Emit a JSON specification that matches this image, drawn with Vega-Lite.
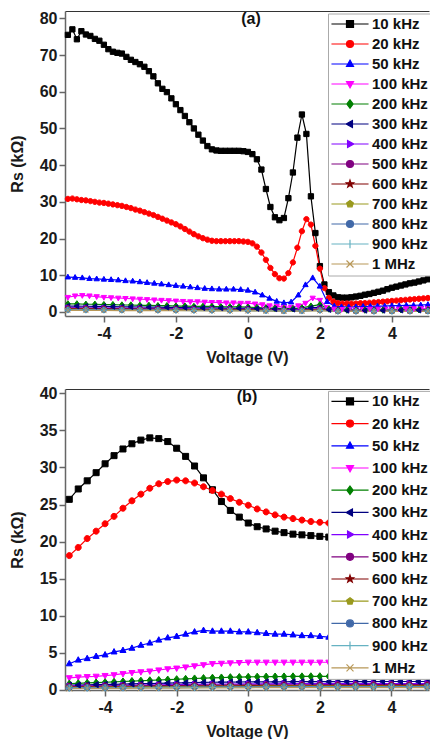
{
"$schema": "https://vega.github.io/schema/vega-lite/v6.json",
"padding": {"left": 9, "top": 10, "right": 0, "bottom": 0},
"background": "white",
"spacing": 20,
"resolve": {"legend": {"color": "independent"}},
"config": {
 "font": "Liberation Sans",
 "view": {"stroke": null},
 "axis": {"labelFont": "Liberation Sans", "labelFontWeight": "bold", "labelFontSize": 16, "labelColor": "#1a1a1a", "titleFont": "Liberation Sans", "titleFontWeight": "bold", "titleFontSize": 16, "titleColor": "#1a1a1a", "domainColor": "#666", "domainWidth": 1.5, "tickColor": "#666", "tickWidth": 1.5, "tickSize": 6, "labelPadding": 2, "grid": false, "labelOverlap": false, "labelExpr": "replace(datum.label, '\u2212', '-')"},
 "axisX": {"titlePadding": 8, "labelPadding": 3},
 "axisY": {"titlePadding": 14},
 "title": {"font": "Liberation Sans", "fontWeight": "bold", "fontSize": 16, "color": "#111", "frame": "group", "offset": -17, "anchor": "middle"}
},
"datasets": {
"a": [
{"f":10,"v":-5,"r":75.5},{"f":10,"v":-4.875,"r":77.0},{"f":10,"v":-4.75,"r":74.3},{"f":10,"v":-4.625,"r":76.5},{"f":10,"v":-4.5,"r":75.6},{"f":10,"v":-4.375,"r":75.2},{"f":10,"v":-4.25,"r":74.4},{"f":10,"v":-4.125,"r":73.9},{"f":10,"v":-4,"r":72.8},{"f":10,"v":-3.875,"r":71.6},{"f":10,"v":-3.75,"r":70.9},{"f":10,"v":-3.625,"r":70.6},{"f":10,"v":-3.5,"r":70.4},{"f":10,"v":-3.375,"r":69.5},{"f":10,"v":-3.25,"r":68.7},{"f":10,"v":-3.125,"r":68.1},{"f":10,"v":-3,"r":67.5},{"f":10,"v":-2.875,"r":66.8},{"f":10,"v":-2.75,"r":65.6},{"f":10,"v":-2.625,"r":64.2},{"f":10,"v":-2.5,"r":62.3},{"f":10,"v":-2.375,"r":60.8},{"f":10,"v":-2.25,"r":59.9},{"f":10,"v":-2.125,"r":58.2},{"f":10,"v":-2,"r":56.6},{"f":10,"v":-1.875,"r":55.0},{"f":10,"v":-1.75,"r":53.4},{"f":10,"v":-1.625,"r":51.7},{"f":10,"v":-1.5,"r":50.0},{"f":10,"v":-1.375,"r":48.3},{"f":10,"v":-1.25,"r":46.7},{"f":10,"v":-1.125,"r":45.2},{"f":10,"v":-1,"r":44.3},{"f":10,"v":-0.875,"r":44.0},{"f":10,"v":-0.75,"r":43.9},{"f":10,"v":-0.625,"r":43.9},{"f":10,"v":-0.5,"r":43.9},{"f":10,"v":-0.375,"r":43.9},{"f":10,"v":-0.25,"r":43.9},{"f":10,"v":-0.125,"r":43.8},{"f":10,"v":0,"r":43.6},{"f":10,"v":0.125,"r":43.0},{"f":10,"v":0.25,"r":41.6},{"f":10,"v":0.375,"r":38.8},{"f":10,"v":0.5,"r":33.5},{"f":10,"v":0.625,"r":28.6},{"f":10,"v":0.75,"r":25.8},{"f":10,"v":0.875,"r":25.0},{"f":10,"v":1,"r":25.6},{"f":10,"v":1.125,"r":31.0},{"f":10,"v":1.25,"r":38.0},{"f":10,"v":1.375,"r":47.5},{"f":10,"v":1.5,"r":53.8},{"f":10,"v":1.625,"r":48.5},{"f":10,"v":1.75,"r":31.5},{"f":10,"v":1.875,"r":21.5},{"f":10,"v":2,"r":12.5},{"f":10,"v":2.125,"r":7.5},{"f":10,"v":2.25,"r":5.4},{"f":10,"v":2.375,"r":4.5},{"f":10,"v":2.5,"r":4.0},{"f":10,"v":2.625,"r":3.9},{"f":10,"v":2.75,"r":3.9},{"f":10,"v":2.875,"r":4.0},{"f":10,"v":3,"r":4.2},{"f":10,"v":3.125,"r":4.4},{"f":10,"v":3.25,"r":4.7},{"f":10,"v":3.375,"r":4.9},{"f":10,"v":3.5,"r":5.2},{"f":10,"v":3.625,"r":5.5},{"f":10,"v":3.75,"r":5.8},{"f":10,"v":3.875,"r":6.2},{"f":10,"v":4,"r":6.6},{"f":10,"v":4.125,"r":6.9},{"f":10,"v":4.25,"r":7.2},{"f":10,"v":4.375,"r":7.5},{"f":10,"v":4.5,"r":7.8},{"f":10,"v":4.625,"r":8.0},{"f":10,"v":4.75,"r":8.3},{"f":10,"v":4.875,"r":8.6},{"f":10,"v":5,"r":8.9},
{"f":20,"v":-5,"r":30.8},{"f":20,"v":-4.875,"r":30.9},{"f":20,"v":-4.75,"r":30.7},{"f":20,"v":-4.625,"r":30.5},{"f":20,"v":-4.5,"r":30.4},{"f":20,"v":-4.375,"r":30.2},{"f":20,"v":-4.25,"r":30.0},{"f":20,"v":-4.125,"r":29.8},{"f":20,"v":-4,"r":29.7},{"f":20,"v":-3.875,"r":29.5},{"f":20,"v":-3.75,"r":29.3},{"f":20,"v":-3.625,"r":29.1},{"f":20,"v":-3.5,"r":28.9},{"f":20,"v":-3.375,"r":28.6},{"f":20,"v":-3.25,"r":28.3},{"f":20,"v":-3.125,"r":27.9},{"f":20,"v":-3,"r":27.6},{"f":20,"v":-2.875,"r":27.2},{"f":20,"v":-2.75,"r":26.8},{"f":20,"v":-2.625,"r":26.4},{"f":20,"v":-2.5,"r":25.9},{"f":20,"v":-2.375,"r":25.4},{"f":20,"v":-2.25,"r":24.9},{"f":20,"v":-2.125,"r":24.4},{"f":20,"v":-2,"r":23.9},{"f":20,"v":-1.875,"r":23.3},{"f":20,"v":-1.75,"r":22.6},{"f":20,"v":-1.625,"r":21.9},{"f":20,"v":-1.5,"r":21.2},{"f":20,"v":-1.375,"r":20.6},{"f":20,"v":-1.25,"r":20.1},{"f":20,"v":-1.125,"r":19.7},{"f":20,"v":-1,"r":19.4},{"f":20,"v":-0.875,"r":19.3},{"f":20,"v":-0.75,"r":19.3},{"f":20,"v":-0.625,"r":19.3},{"f":20,"v":-0.5,"r":19.3},{"f":20,"v":-0.375,"r":19.3},{"f":20,"v":-0.25,"r":19.3},{"f":20,"v":-0.125,"r":19.2},{"f":20,"v":0,"r":19.1},{"f":20,"v":0.125,"r":18.7},{"f":20,"v":0.25,"r":17.8},{"f":20,"v":0.375,"r":16.2},{"f":20,"v":0.5,"r":14.2},{"f":20,"v":0.625,"r":12.0},{"f":20,"v":0.75,"r":10.3},{"f":20,"v":0.875,"r":9.2},{"f":20,"v":1,"r":9.1},{"f":20,"v":1.125,"r":10.6},{"f":20,"v":1.25,"r":13.5},{"f":20,"v":1.375,"r":17.5},{"f":20,"v":1.5,"r":22.0},{"f":20,"v":1.625,"r":25.3},{"f":20,"v":1.75,"r":23.8},{"f":20,"v":1.875,"r":18.0},{"f":20,"v":2,"r":11.8},{"f":20,"v":2.125,"r":6.5},{"f":20,"v":2.25,"r":3.8},{"f":20,"v":2.375,"r":2.8},{"f":20,"v":2.5,"r":2.4},{"f":20,"v":2.625,"r":2.3},{"f":20,"v":2.75,"r":2.3},{"f":20,"v":2.875,"r":2.3},{"f":20,"v":3,"r":2.3},{"f":20,"v":3.125,"r":2.4},{"f":20,"v":3.25,"r":2.4},{"f":20,"v":3.375,"r":2.5},{"f":20,"v":3.5,"r":2.6},{"f":20,"v":3.625,"r":2.7},{"f":20,"v":3.75,"r":2.8},{"f":20,"v":3.875,"r":2.9},{"f":20,"v":4,"r":3.0},{"f":20,"v":4.125,"r":3.1},{"f":20,"v":4.25,"r":3.2},{"f":20,"v":4.375,"r":3.3},{"f":20,"v":4.5,"r":3.4},{"f":20,"v":4.625,"r":3.5},{"f":20,"v":4.75,"r":3.6},{"f":20,"v":4.875,"r":3.7},{"f":20,"v":5,"r":3.8},
{"f":50,"v":-5,"r":9.5},{"f":50,"v":-4.8,"r":9.4},{"f":50,"v":-4.6,"r":9.3},{"f":50,"v":-4.4,"r":9.1},{"f":50,"v":-4.2,"r":9.0},{"f":50,"v":-4,"r":8.9},{"f":50,"v":-3.8,"r":8.8},{"f":50,"v":-3.6,"r":8.7},{"f":50,"v":-3.4,"r":8.5},{"f":50,"v":-3.2,"r":8.4},{"f":50,"v":-3,"r":8.2},{"f":50,"v":-2.8,"r":8.0},{"f":50,"v":-2.6,"r":7.8},{"f":50,"v":-2.4,"r":7.6},{"f":50,"v":-2.2,"r":7.4},{"f":50,"v":-2,"r":7.2},{"f":50,"v":-1.8,"r":7.0},{"f":50,"v":-1.6,"r":6.8},{"f":50,"v":-1.4,"r":6.6},{"f":50,"v":-1.2,"r":6.4},{"f":50,"v":-1,"r":6.3},{"f":50,"v":-0.8,"r":6.2},{"f":50,"v":-0.6,"r":6.2},{"f":50,"v":-0.4,"r":6.2},{"f":50,"v":-0.2,"r":6.1},{"f":50,"v":0,"r":5.9},{"f":50,"v":0.2,"r":5.4},{"f":50,"v":0.4,"r":4.6},{"f":50,"v":0.6,"r":3.7},{"f":50,"v":0.8,"r":2.9},{"f":50,"v":1,"r":2.5},{"f":50,"v":1.2,"r":2.7},{"f":50,"v":1.4,"r":4.6},{"f":50,"v":1.6,"r":7.4},{"f":50,"v":1.8,"r":9.3},{"f":50,"v":2,"r":7.0},{"f":50,"v":2.2,"r":2.8},{"f":50,"v":2.4,"r":1.6},{"f":50,"v":2.6,"r":1.4},{"f":50,"v":2.8,"r":1.4},{"f":50,"v":3,"r":1.4},{"f":50,"v":3.2,"r":1.5},{"f":50,"v":3.4,"r":1.5},{"f":50,"v":3.6,"r":1.6},{"f":50,"v":3.8,"r":1.6},{"f":50,"v":4,"r":1.7},{"f":50,"v":4.2,"r":1.7},{"f":50,"v":4.4,"r":1.8},{"f":50,"v":4.6,"r":1.8},{"f":50,"v":4.8,"r":1.9},{"f":50,"v":5,"r":2.0},
{"f":100,"v":-5,"r":4.0},{"f":100,"v":-4.8,"r":4.4},{"f":100,"v":-4.6,"r":4.5},{"f":100,"v":-4.4,"r":4.4},{"f":100,"v":-4.2,"r":4.2},{"f":100,"v":-4,"r":4.0},{"f":100,"v":-3.8,"r":3.9},{"f":100,"v":-3.6,"r":3.8},{"f":100,"v":-3.4,"r":3.7},{"f":100,"v":-3.2,"r":3.6},{"f":100,"v":-3,"r":3.5},{"f":100,"v":-2.8,"r":3.4},{"f":100,"v":-2.6,"r":3.3},{"f":100,"v":-2.4,"r":3.2},{"f":100,"v":-2.2,"r":3.1},{"f":100,"v":-2,"r":3.0},{"f":100,"v":-1.8,"r":2.9},{"f":100,"v":-1.6,"r":2.8},{"f":100,"v":-1.4,"r":2.8},{"f":100,"v":-1.2,"r":2.7},{"f":100,"v":-1,"r":2.6},{"f":100,"v":-0.8,"r":2.6},{"f":100,"v":-0.6,"r":2.5},{"f":100,"v":-0.4,"r":2.5},{"f":100,"v":-0.2,"r":2.4},{"f":100,"v":0,"r":2.4},{"f":100,"v":0.2,"r":2.2},{"f":100,"v":0.4,"r":2.0},{"f":100,"v":0.6,"r":1.7},{"f":100,"v":0.8,"r":1.5},{"f":100,"v":1,"r":1.3},{"f":100,"v":1.2,"r":1.3},{"f":100,"v":1.4,"r":1.7},{"f":100,"v":1.6,"r":2.4},{"f":100,"v":1.8,"r":3.8},{"f":100,"v":2,"r":3.2},{"f":100,"v":2.2,"r":1.2},{"f":100,"v":2.4,"r":0.8},{"f":100,"v":2.6,"r":0.7},{"f":100,"v":2.8,"r":0.7},{"f":100,"v":3,"r":0.7},{"f":100,"v":3.2,"r":0.7},{"f":100,"v":3.4,"r":0.8},{"f":100,"v":3.6,"r":0.8},{"f":100,"v":3.8,"r":0.8},{"f":100,"v":4,"r":0.8},{"f":100,"v":4.2,"r":0.8},{"f":100,"v":4.4,"r":0.9},{"f":100,"v":4.6,"r":0.9},{"f":100,"v":4.8,"r":0.9},{"f":100,"v":5,"r":0.9},
{"f":200,"v":-5,"r":2.2},{"f":200,"v":-4.75,"r":2.2},{"f":200,"v":-4.5,"r":2.1},{"f":200,"v":-4.25,"r":2.1},{"f":200,"v":-4,"r":2.0},{"f":200,"v":-3.75,"r":2.0},{"f":200,"v":-3.5,"r":1.9},{"f":200,"v":-3.25,"r":1.9},{"f":200,"v":-3,"r":1.8},{"f":200,"v":-2.75,"r":1.8},{"f":200,"v":-2.5,"r":1.7},{"f":200,"v":-2.25,"r":1.7},{"f":200,"v":-2,"r":1.6},{"f":200,"v":-1.75,"r":1.6},{"f":200,"v":-1.5,"r":1.5},{"f":200,"v":-1.25,"r":1.5},{"f":200,"v":-1,"r":1.5},{"f":200,"v":-0.75,"r":1.4},{"f":200,"v":-0.5,"r":1.4},{"f":200,"v":-0.25,"r":1.4},{"f":200,"v":0,"r":1.3},{"f":200,"v":0.25,"r":1.2},{"f":200,"v":0.5,"r":1.1},{"f":200,"v":0.75,"r":1.0},{"f":200,"v":1,"r":0.9},{"f":200,"v":1.25,"r":0.9},{"f":200,"v":1.5,"r":1.1},{"f":200,"v":1.75,"r":1.6},{"f":200,"v":2,"r":2.0},{"f":200,"v":2.25,"r":0.8},{"f":200,"v":2.5,"r":0.5},{"f":200,"v":2.75,"r":0.5},{"f":200,"v":3,"r":0.5},{"f":200,"v":3.25,"r":0.5},{"f":200,"v":3.5,"r":0.5},{"f":200,"v":3.75,"r":0.5},{"f":200,"v":4,"r":0.5},{"f":200,"v":4.25,"r":0.6},{"f":200,"v":4.5,"r":0.6},{"f":200,"v":4.75,"r":0.6},{"f":200,"v":5,"r":0.6},
{"f":300,"v":-5,"r":1.6},{"f":300,"v":-4.75,"r":1.6},{"f":300,"v":-4.5,"r":1.55},{"f":300,"v":-4.25,"r":1.5},{"f":300,"v":-4,"r":1.5},{"f":300,"v":-3.75,"r":1.45},{"f":300,"v":-3.5,"r":1.4},{"f":300,"v":-3.25,"r":1.4},{"f":300,"v":-3,"r":1.35},{"f":300,"v":-2.75,"r":1.3},{"f":300,"v":-2.5,"r":1.3},{"f":300,"v":-2.25,"r":1.25},{"f":300,"v":-2,"r":1.2},{"f":300,"v":-1.75,"r":1.2},{"f":300,"v":-1.5,"r":1.15},{"f":300,"v":-1.25,"r":1.1},{"f":300,"v":-1,"r":1.1},{"f":300,"v":-0.75,"r":1.05},{"f":300,"v":-0.5,"r":1.0},{"f":300,"v":-0.25,"r":1.0},{"f":300,"v":0,"r":1.0},{"f":300,"v":0.25,"r":0.9},{"f":300,"v":0.5,"r":0.85},{"f":300,"v":0.75,"r":0.8},{"f":300,"v":1,"r":0.7},{"f":300,"v":1.25,"r":0.7},{"f":300,"v":1.5,"r":0.8},{"f":300,"v":1.75,"r":1.1},{"f":300,"v":2,"r":1.3},{"f":300,"v":2.25,"r":0.6},{"f":300,"v":2.5,"r":0.4},{"f":300,"v":2.75,"r":0.4},{"f":300,"v":3,"r":0.4},{"f":300,"v":3.25,"r":0.4},{"f":300,"v":3.5,"r":0.4},{"f":300,"v":3.75,"r":0.4},{"f":300,"v":4,"r":0.4},{"f":300,"v":4.25,"r":0.45},{"f":300,"v":4.5,"r":0.45},{"f":300,"v":4.75,"r":0.45},{"f":300,"v":5,"r":0.45},
{"f":400,"v":-5,"r":1.2},{"f":400,"v":-4.5,"r":1.15},{"f":400,"v":-4,"r":1.1},{"f":400,"v":-3.5,"r":1.05},{"f":400,"v":-3,"r":1.0},{"f":400,"v":-2.5,"r":0.95},{"f":400,"v":-2,"r":0.9},{"f":400,"v":-1.5,"r":0.85},{"f":400,"v":-1,"r":0.8},{"f":400,"v":-0.5,"r":0.8},{"f":400,"v":0,"r":0.75},{"f":400,"v":0.5,"r":0.65},{"f":400,"v":1,"r":0.55},{"f":400,"v":1.5,"r":0.6},{"f":400,"v":2,"r":1.0},{"f":400,"v":2.5,"r":0.35},{"f":400,"v":3,"r":0.35},{"f":400,"v":3.5,"r":0.35},{"f":400,"v":4,"r":0.35},{"f":400,"v":4.5,"r":0.4},{"f":400,"v":5,"r":0.4},
{"f":500,"v":-5,"r":1.0},{"f":500,"v":-4.5,"r":0.96},{"f":500,"v":-4,"r":0.92},{"f":500,"v":-3.5,"r":0.88},{"f":500,"v":-3,"r":0.84},{"f":500,"v":-2.5,"r":0.8},{"f":500,"v":-2,"r":0.76},{"f":500,"v":-1.5,"r":0.72},{"f":500,"v":-1,"r":0.7},{"f":500,"v":-0.5,"r":0.68},{"f":500,"v":0,"r":0.64},{"f":500,"v":0.5,"r":0.55},{"f":500,"v":1,"r":0.46},{"f":500,"v":1.5,"r":0.5},{"f":500,"v":2,"r":0.8},{"f":500,"v":2.5,"r":0.3},{"f":500,"v":3,"r":0.3},{"f":500,"v":3.5,"r":0.3},{"f":500,"v":4,"r":0.3},{"f":500,"v":4.5,"r":0.32},{"f":500,"v":5,"r":0.34},
{"f":600,"v":-5,"r":0.85},{"f":600,"v":-4.5,"r":0.82},{"f":600,"v":-4,"r":0.79},{"f":600,"v":-3.5,"r":0.76},{"f":600,"v":-3,"r":0.72},{"f":600,"v":-2.5,"r":0.69},{"f":600,"v":-2,"r":0.66},{"f":600,"v":-1.5,"r":0.63},{"f":600,"v":-1,"r":0.6},{"f":600,"v":-0.5,"r":0.58},{"f":600,"v":0,"r":0.55},{"f":600,"v":0.5,"r":0.47},{"f":600,"v":1,"r":0.4},{"f":600,"v":1.5,"r":0.43},{"f":600,"v":2,"r":0.66},{"f":600,"v":2.5,"r":0.26},{"f":600,"v":3,"r":0.26},{"f":600,"v":3.5,"r":0.26},{"f":600,"v":4,"r":0.27},{"f":600,"v":4.5,"r":0.28},{"f":600,"v":5,"r":0.3},
{"f":700,"v":-5,"r":0.72},{"f":700,"v":-4.5,"r":0.7},{"f":700,"v":-4,"r":0.67},{"f":700,"v":-3.5,"r":0.64},{"f":700,"v":-3,"r":0.62},{"f":700,"v":-2.5,"r":0.59},{"f":700,"v":-2,"r":0.56},{"f":700,"v":-1.5,"r":0.54},{"f":700,"v":-1,"r":0.52},{"f":700,"v":-0.5,"r":0.5},{"f":700,"v":0,"r":0.47},{"f":700,"v":0.5,"r":0.41},{"f":700,"v":1,"r":0.35},{"f":700,"v":1.5,"r":0.37},{"f":700,"v":2,"r":0.56},{"f":700,"v":2.5,"r":0.23},{"f":700,"v":3,"r":0.23},{"f":700,"v":3.5,"r":0.23},{"f":700,"v":4,"r":0.24},{"f":700,"v":4.5,"r":0.25},{"f":700,"v":5,"r":0.26},
{"f":800,"v":-5,"r":0.6},{"f":800,"v":-4.5,"r":0.58},{"f":800,"v":-4,"r":0.56},{"f":800,"v":-3.5,"r":0.54},{"f":800,"v":-3,"r":0.52},{"f":800,"v":-2.5,"r":0.5},{"f":800,"v":-2,"r":0.48},{"f":800,"v":-1.5,"r":0.46},{"f":800,"v":-1,"r":0.44},{"f":800,"v":-0.5,"r":0.42},{"f":800,"v":0,"r":0.4},{"f":800,"v":0.5,"r":0.35},{"f":800,"v":1,"r":0.3},{"f":800,"v":1.5,"r":0.32},{"f":800,"v":2,"r":0.47},{"f":800,"v":2.5,"r":0.2},{"f":800,"v":3,"r":0.2},{"f":800,"v":3.5,"r":0.2},{"f":800,"v":4,"r":0.21},{"f":800,"v":4.5,"r":0.22},{"f":800,"v":5,"r":0.23},
{"f":900,"v":-5,"r":0.5},{"f":900,"v":-4.5,"r":0.48},{"f":900,"v":-4,"r":0.47},{"f":900,"v":-3.5,"r":0.45},{"f":900,"v":-3,"r":0.43},{"f":900,"v":-2.5,"r":0.42},{"f":900,"v":-2,"r":0.4},{"f":900,"v":-1.5,"r":0.38},{"f":900,"v":-1,"r":0.37},{"f":900,"v":-0.5,"r":0.35},{"f":900,"v":0,"r":0.34},{"f":900,"v":0.5,"r":0.3},{"f":900,"v":1,"r":0.26},{"f":900,"v":1.5,"r":0.27},{"f":900,"v":2,"r":0.4},{"f":900,"v":2.5,"r":0.17},{"f":900,"v":3,"r":0.17},{"f":900,"v":3.5,"r":0.17},{"f":900,"v":4,"r":0.18},{"f":900,"v":4.5,"r":0.19},{"f":900,"v":5,"r":0.2},
{"f":1000,"v":-5,"r":0.42},{"f":1000,"v":-4.5,"r":0.41},{"f":1000,"v":-4,"r":0.4},{"f":1000,"v":-3.5,"r":0.38},{"f":1000,"v":-3,"r":0.37},{"f":1000,"v":-2.5,"r":0.36},{"f":1000,"v":-2,"r":0.34},{"f":1000,"v":-1.5,"r":0.33},{"f":1000,"v":-1,"r":0.32},{"f":1000,"v":-0.5,"r":0.3},{"f":1000,"v":0,"r":0.29},{"f":1000,"v":0.5,"r":0.26},{"f":1000,"v":1,"r":0.22},{"f":1000,"v":1.5,"r":0.24},{"f":1000,"v":2,"r":0.35},{"f":1000,"v":2.5,"r":0.15},{"f":1000,"v":3,"r":0.15},{"f":1000,"v":3.5,"r":0.15},{"f":1000,"v":4,"r":0.16},{"f":1000,"v":4.5,"r":0.17},{"f":1000,"v":5,"r":0.18}
],
"b": [
{"f":10,"v":-5,"r":25.7},{"f":10,"v":-4.75,"r":27.1},{"f":10,"v":-4.5,"r":28.2},{"f":10,"v":-4.25,"r":29.3},{"f":10,"v":-4,"r":30.5},{"f":10,"v":-3.75,"r":31.6},{"f":10,"v":-3.5,"r":32.5},{"f":10,"v":-3.25,"r":33.2},{"f":10,"v":-3,"r":33.7},{"f":10,"v":-2.75,"r":34.0},{"f":10,"v":-2.5,"r":33.9},{"f":10,"v":-2.25,"r":33.5},{"f":10,"v":-2,"r":32.6},{"f":10,"v":-1.75,"r":31.5},{"f":10,"v":-1.5,"r":30.2},{"f":10,"v":-1.25,"r":28.6},{"f":10,"v":-1,"r":27.0},{"f":10,"v":-0.75,"r":25.4},{"f":10,"v":-0.5,"r":24.2},{"f":10,"v":-0.25,"r":23.3},{"f":10,"v":0,"r":22.5},{"f":10,"v":0.25,"r":22.0},{"f":10,"v":0.5,"r":21.7},{"f":10,"v":0.75,"r":21.4},{"f":10,"v":1,"r":21.2},{"f":10,"v":1.25,"r":21.0},{"f":10,"v":1.5,"r":20.9},{"f":10,"v":1.75,"r":20.8},{"f":10,"v":2,"r":20.7},{"f":10,"v":2.25,"r":20.6},{"f":10,"v":2.5,"r":20.6},{"f":10,"v":2.75,"r":20.5},{"f":10,"v":3,"r":20.5},{"f":10,"v":3.25,"r":20.5},{"f":10,"v":3.5,"r":20.4},{"f":10,"v":3.75,"r":20.4},{"f":10,"v":4,"r":20.4},{"f":10,"v":4.25,"r":20.4},{"f":10,"v":4.5,"r":20.3},{"f":10,"v":4.75,"r":20.3},{"f":10,"v":5,"r":20.3},
{"f":20,"v":-5,"r":18.1},{"f":20,"v":-4.75,"r":19.2},{"f":20,"v":-4.5,"r":20.4},{"f":20,"v":-4.25,"r":21.4},{"f":20,"v":-4,"r":22.4},{"f":20,"v":-3.75,"r":23.4},{"f":20,"v":-3.5,"r":24.5},{"f":20,"v":-3.25,"r":25.5},{"f":20,"v":-3,"r":26.4},{"f":20,"v":-2.75,"r":27.2},{"f":20,"v":-2.5,"r":27.8},{"f":20,"v":-2.25,"r":28.1},{"f":20,"v":-2,"r":28.3},{"f":20,"v":-1.75,"r":28.2},{"f":20,"v":-1.5,"r":27.9},{"f":20,"v":-1.25,"r":27.4},{"f":20,"v":-1,"r":26.9},{"f":20,"v":-0.75,"r":26.4},{"f":20,"v":-0.5,"r":25.8},{"f":20,"v":-0.25,"r":25.3},{"f":20,"v":0,"r":24.9},{"f":20,"v":0.25,"r":24.4},{"f":20,"v":0.5,"r":24.0},{"f":20,"v":0.75,"r":23.6},{"f":20,"v":1,"r":23.3},{"f":20,"v":1.25,"r":23.1},{"f":20,"v":1.5,"r":22.9},{"f":20,"v":1.75,"r":22.7},{"f":20,"v":2,"r":22.6},{"f":20,"v":2.25,"r":22.5},{"f":20,"v":2.5,"r":22.4},{"f":20,"v":2.75,"r":22.4},{"f":20,"v":3,"r":22.3},{"f":20,"v":3.25,"r":22.3},{"f":20,"v":3.5,"r":22.2},{"f":20,"v":3.75,"r":22.2},{"f":20,"v":4,"r":22.1},{"f":20,"v":4.25,"r":22.1},{"f":20,"v":4.5,"r":22.1},{"f":20,"v":4.75,"r":22.0},{"f":20,"v":5,"r":22.0},
{"f":50,"v":-5,"r":3.5},{"f":50,"v":-4.75,"r":4.0},{"f":50,"v":-4.5,"r":4.2},{"f":50,"v":-4.25,"r":4.5},{"f":50,"v":-4,"r":4.7},{"f":50,"v":-3.75,"r":5.1},{"f":50,"v":-3.5,"r":5.3},{"f":50,"v":-3.25,"r":5.6},{"f":50,"v":-3,"r":6.0},{"f":50,"v":-2.75,"r":6.3},{"f":50,"v":-2.5,"r":6.7},{"f":50,"v":-2.25,"r":7.0},{"f":50,"v":-2,"r":7.2},{"f":50,"v":-1.75,"r":7.5},{"f":50,"v":-1.5,"r":7.8},{"f":50,"v":-1.25,"r":8.0},{"f":50,"v":-1,"r":7.9},{"f":50,"v":-0.75,"r":7.9},{"f":50,"v":-0.5,"r":7.9},{"f":50,"v":-0.25,"r":7.8},{"f":50,"v":0,"r":7.8},{"f":50,"v":0.25,"r":7.7},{"f":50,"v":0.5,"r":7.6},{"f":50,"v":0.75,"r":7.5},{"f":50,"v":1,"r":7.5},{"f":50,"v":1.25,"r":7.4},{"f":50,"v":1.5,"r":7.3},{"f":50,"v":1.75,"r":7.3},{"f":50,"v":2,"r":7.2},{"f":50,"v":2.25,"r":7.1},{"f":50,"v":2.5,"r":7.1},{"f":50,"v":2.75,"r":7.0},{"f":50,"v":3,"r":7.0},{"f":50,"v":3.25,"r":6.9},{"f":50,"v":3.5,"r":6.9},{"f":50,"v":3.75,"r":6.9},{"f":50,"v":4,"r":6.8},{"f":50,"v":4.25,"r":6.8},{"f":50,"v":4.5,"r":6.8},{"f":50,"v":4.75,"r":6.7},{"f":50,"v":5,"r":6.7},
{"f":100,"v":-5,"r":1.6},{"f":100,"v":-4.75,"r":1.7},{"f":100,"v":-4.5,"r":1.75},{"f":100,"v":-4.25,"r":1.8},{"f":100,"v":-4,"r":1.9},{"f":100,"v":-3.75,"r":2.0},{"f":100,"v":-3.5,"r":2.15},{"f":100,"v":-3.25,"r":2.3},{"f":100,"v":-3,"r":2.4},{"f":100,"v":-2.75,"r":2.5},{"f":100,"v":-2.5,"r":2.65},{"f":100,"v":-2.25,"r":2.8},{"f":100,"v":-2,"r":2.9},{"f":100,"v":-1.75,"r":3.05},{"f":100,"v":-1.5,"r":3.2},{"f":100,"v":-1.25,"r":3.35},{"f":100,"v":-1,"r":3.5},{"f":100,"v":-0.75,"r":3.55},{"f":100,"v":-0.5,"r":3.6},{"f":100,"v":-0.25,"r":3.65},{"f":100,"v":0,"r":3.7},{"f":100,"v":0.25,"r":3.7},{"f":100,"v":0.5,"r":3.7},{"f":100,"v":0.75,"r":3.7},{"f":100,"v":1,"r":3.7},{"f":100,"v":1.25,"r":3.7},{"f":100,"v":1.5,"r":3.7},{"f":100,"v":1.75,"r":3.7},{"f":100,"v":2,"r":3.7},{"f":100,"v":2.25,"r":3.7},{"f":100,"v":2.5,"r":3.7},{"f":100,"v":2.75,"r":3.7},{"f":100,"v":3,"r":3.7},{"f":100,"v":3.25,"r":3.7},{"f":100,"v":3.5,"r":3.7},{"f":100,"v":3.75,"r":3.7},{"f":100,"v":4,"r":3.7},{"f":100,"v":4.25,"r":3.7},{"f":100,"v":4.5,"r":3.7},{"f":100,"v":4.75,"r":3.7},{"f":100,"v":5,"r":3.7},
{"f":200,"v":-5,"r":0.8},{"f":200,"v":-4.75,"r":0.85},{"f":200,"v":-4.5,"r":0.9},{"f":200,"v":-4.25,"r":0.95},{"f":200,"v":-4,"r":1.0},{"f":200,"v":-3.75,"r":1.05},{"f":200,"v":-3.5,"r":1.1},{"f":200,"v":-3.25,"r":1.15},{"f":200,"v":-3,"r":1.2},{"f":200,"v":-2.75,"r":1.25},{"f":200,"v":-2.5,"r":1.3},{"f":200,"v":-2.25,"r":1.35},{"f":200,"v":-2,"r":1.4},{"f":200,"v":-1.75,"r":1.45},{"f":200,"v":-1.5,"r":1.5},{"f":200,"v":-1.25,"r":1.55},{"f":200,"v":-1,"r":1.6},{"f":200,"v":-0.75,"r":1.63},{"f":200,"v":-0.5,"r":1.67},{"f":200,"v":-0.25,"r":1.7},{"f":200,"v":0,"r":1.72},{"f":200,"v":0.25,"r":1.74},{"f":200,"v":0.5,"r":1.75},{"f":200,"v":0.75,"r":1.76},{"f":200,"v":1,"r":1.77},{"f":200,"v":1.25,"r":1.78},{"f":200,"v":1.5,"r":1.78},{"f":200,"v":1.75,"r":1.79},{"f":200,"v":2,"r":1.8},{"f":200,"v":2.25,"r":1.8},{"f":200,"v":2.5,"r":1.8},{"f":200,"v":2.75,"r":1.8},{"f":200,"v":3,"r":1.8},{"f":200,"v":3.25,"r":1.8},{"f":200,"v":3.5,"r":1.8},{"f":200,"v":3.75,"r":1.8},{"f":200,"v":4,"r":1.8},{"f":200,"v":4.25,"r":1.8},{"f":200,"v":4.5,"r":1.8},{"f":200,"v":4.75,"r":1.8},{"f":200,"v":5,"r":1.8},
{"f":300,"v":-5,"r":0.6},{"f":300,"v":-4.75,"r":0.62},{"f":300,"v":-4.5,"r":0.65},{"f":300,"v":-4.25,"r":0.67},{"f":300,"v":-4,"r":0.7},{"f":300,"v":-3.75,"r":0.72},{"f":300,"v":-3.5,"r":0.75},{"f":300,"v":-3.25,"r":0.77},{"f":300,"v":-3,"r":0.8},{"f":300,"v":-2.75,"r":0.82},{"f":300,"v":-2.5,"r":0.85},{"f":300,"v":-2.25,"r":0.87},{"f":300,"v":-2,"r":0.9},{"f":300,"v":-1.75,"r":0.92},{"f":300,"v":-1.5,"r":0.95},{"f":300,"v":-1.25,"r":0.97},{"f":300,"v":-1,"r":1.0},{"f":300,"v":-0.75,"r":1.01},{"f":300,"v":-0.5,"r":1.02},{"f":300,"v":-0.25,"r":1.03},{"f":300,"v":0,"r":1.04},{"f":300,"v":0.25,"r":1.05},{"f":300,"v":0.5,"r":1.05},{"f":300,"v":0.75,"r":1.06},{"f":300,"v":1,"r":1.06},{"f":300,"v":1.25,"r":1.07},{"f":300,"v":1.5,"r":1.07},{"f":300,"v":1.75,"r":1.07},{"f":300,"v":2,"r":1.08},{"f":300,"v":2.25,"r":1.08},{"f":300,"v":2.5,"r":1.08},{"f":300,"v":2.75,"r":1.09},{"f":300,"v":3,"r":1.09},{"f":300,"v":3.25,"r":1.09},{"f":300,"v":3.5,"r":1.09},{"f":300,"v":3.75,"r":1.1},{"f":300,"v":4,"r":1.1},{"f":300,"v":4.25,"r":1.1},{"f":300,"v":4.5,"r":1.1},{"f":300,"v":4.75,"r":1.1},{"f":300,"v":5,"r":1.1},
{"f":400,"v":-5,"r":0.5},{"f":400,"v":-4.5,"r":0.53},{"f":400,"v":-4,"r":0.56},{"f":400,"v":-3.5,"r":0.59},{"f":400,"v":-3,"r":0.62},{"f":400,"v":-2.5,"r":0.65},{"f":400,"v":-2,"r":0.68},{"f":400,"v":-1.5,"r":0.71},{"f":400,"v":-1,"r":0.74},{"f":400,"v":-0.5,"r":0.76},{"f":400,"v":0,"r":0.78},{"f":400,"v":0.5,"r":0.79},{"f":400,"v":1,"r":0.8},{"f":400,"v":1.5,"r":0.8},{"f":400,"v":2,"r":0.81},{"f":400,"v":2.5,"r":0.81},{"f":400,"v":3,"r":0.82},{"f":400,"v":3.5,"r":0.82},{"f":400,"v":4,"r":0.82},{"f":400,"v":4.5,"r":0.83},{"f":400,"v":5,"r":0.83},
{"f":500,"v":-5,"r":0.42},{"f":500,"v":-4.5,"r":0.44},{"f":500,"v":-4,"r":0.47},{"f":500,"v":-3.5,"r":0.49},{"f":500,"v":-3,"r":0.52},{"f":500,"v":-2.5,"r":0.54},{"f":500,"v":-2,"r":0.56},{"f":500,"v":-1.5,"r":0.59},{"f":500,"v":-1,"r":0.61},{"f":500,"v":-0.5,"r":0.63},{"f":500,"v":0,"r":0.64},{"f":500,"v":0.5,"r":0.65},{"f":500,"v":1,"r":0.66},{"f":500,"v":1.5,"r":0.66},{"f":500,"v":2,"r":0.67},{"f":500,"v":2.5,"r":0.67},{"f":500,"v":3,"r":0.67},{"f":500,"v":3.5,"r":0.68},{"f":500,"v":4,"r":0.68},{"f":500,"v":4.5,"r":0.68},{"f":500,"v":5,"r":0.68},
{"f":600,"v":-5,"r":0.35},{"f":600,"v":-4.5,"r":0.37},{"f":600,"v":-4,"r":0.39},{"f":600,"v":-3.5,"r":0.41},{"f":600,"v":-3,"r":0.43},{"f":600,"v":-2.5,"r":0.45},{"f":600,"v":-2,"r":0.47},{"f":600,"v":-1.5,"r":0.49},{"f":600,"v":-1,"r":0.51},{"f":600,"v":-0.5,"r":0.52},{"f":600,"v":0,"r":0.53},{"f":600,"v":0.5,"r":0.54},{"f":600,"v":1,"r":0.55},{"f":600,"v":1.5,"r":0.55},{"f":600,"v":2,"r":0.56},{"f":600,"v":2.5,"r":0.56},{"f":600,"v":3,"r":0.56},{"f":600,"v":3.5,"r":0.56},{"f":600,"v":4,"r":0.57},{"f":600,"v":4.5,"r":0.57},{"f":600,"v":5,"r":0.57},
{"f":700,"v":-5,"r":0.3},{"f":700,"v":-4.5,"r":0.31},{"f":700,"v":-4,"r":0.33},{"f":700,"v":-3.5,"r":0.35},{"f":700,"v":-3,"r":0.36},{"f":700,"v":-2.5,"r":0.38},{"f":700,"v":-2,"r":0.4},{"f":700,"v":-1.5,"r":0.41},{"f":700,"v":-1,"r":0.43},{"f":700,"v":-0.5,"r":0.44},{"f":700,"v":0,"r":0.45},{"f":700,"v":0.5,"r":0.46},{"f":700,"v":1,"r":0.46},{"f":700,"v":1.5,"r":0.47},{"f":700,"v":2,"r":0.47},{"f":700,"v":2.5,"r":0.47},{"f":700,"v":3,"r":0.48},{"f":700,"v":3.5,"r":0.48},{"f":700,"v":4,"r":0.48},{"f":700,"v":4.5,"r":0.48},{"f":700,"v":5,"r":0.48},
{"f":800,"v":-5,"r":0.25},{"f":800,"v":-4.5,"r":0.26},{"f":800,"v":-4,"r":0.28},{"f":800,"v":-3.5,"r":0.29},{"f":800,"v":-3,"r":0.31},{"f":800,"v":-2.5,"r":0.32},{"f":800,"v":-2,"r":0.33},{"f":800,"v":-1.5,"r":0.35},{"f":800,"v":-1,"r":0.36},{"f":800,"v":-0.5,"r":0.37},{"f":800,"v":0,"r":0.38},{"f":800,"v":0.5,"r":0.39},{"f":800,"v":1,"r":0.39},{"f":800,"v":1.5,"r":0.4},{"f":800,"v":2,"r":0.4},{"f":800,"v":2.5,"r":0.4},{"f":800,"v":3,"r":0.4},{"f":800,"v":3.5,"r":0.41},{"f":800,"v":4,"r":0.41},{"f":800,"v":4.5,"r":0.41},{"f":800,"v":5,"r":0.41},
{"f":900,"v":-5,"r":0.2},{"f":900,"v":-4.5,"r":0.21},{"f":900,"v":-4,"r":0.22},{"f":900,"v":-3.5,"r":0.24},{"f":900,"v":-3,"r":0.25},{"f":900,"v":-2.5,"r":0.26},{"f":900,"v":-2,"r":0.27},{"f":900,"v":-1.5,"r":0.28},{"f":900,"v":-1,"r":0.29},{"f":900,"v":-0.5,"r":0.3},{"f":900,"v":0,"r":0.31},{"f":900,"v":0.5,"r":0.32},{"f":900,"v":1,"r":0.32},{"f":900,"v":1.5,"r":0.33},{"f":900,"v":2,"r":0.33},{"f":900,"v":2.5,"r":0.33},{"f":900,"v":3,"r":0.34},{"f":900,"v":3.5,"r":0.34},{"f":900,"v":4,"r":0.34},{"f":900,"v":4.5,"r":0.34},{"f":900,"v":5,"r":0.34},
{"f":1000,"v":-5,"r":0.15},{"f":1000,"v":-4.5,"r":0.16},{"f":1000,"v":-4,"r":0.17},{"f":1000,"v":-3.5,"r":0.18},{"f":1000,"v":-3,"r":0.19},{"f":1000,"v":-2.5,"r":0.2},{"f":1000,"v":-2,"r":0.21},{"f":1000,"v":-1.5,"r":0.22},{"f":1000,"v":-1,"r":0.23},{"f":1000,"v":-0.5,"r":0.24},{"f":1000,"v":0,"r":0.25},{"f":1000,"v":0.5,"r":0.26},{"f":1000,"v":1,"r":0.26},{"f":1000,"v":1.5,"r":0.27},{"f":1000,"v":2,"r":0.27},{"f":1000,"v":2.5,"r":0.27},{"f":1000,"v":3,"r":0.28},{"f":1000,"v":3.5,"r":0.28},{"f":1000,"v":4,"r":0.28},{"f":1000,"v":4.5,"r":0.28},{"f":1000,"v":5,"r":0.28}
]
},
"vconcat": [
{
 "width": 364, "height": 305,
 "title": {"text": "(a)", "dx": 4},
 "data": {"name": "a"},
 "resolve": {"axis": {"x": "independent"}},
 "layer": [
  {"mark": {"type": "line", "strokeWidth": 1.2},
   "encoding": {
    "x": {"field": "v", "type": "quantitative", "scale": {"domain": [-5.08, 5.03], "nice": false, "zero": false}, "axis": {"title": "Voltage (V)", "values": [-4, -2, 0, 2, 4]}},
    "y": {"field": "r", "type": "quantitative", "scale": {"domain": [-1.1, 82], "nice": false, "zero": false}, "axis": {"title": "Rs (kΩ)", "values": [0, 10, 20, 30, 40, 50, 60, 70, 80]}},
    "color": {"field": "f", "type": "nominal", "scale": {"domain": [10,20,50,100,200,300,400,500,600,700,800,900,1000], "range": ["#000000","#ff0000","#0000ff","#ff00ff","#008000","#000080","#8000ff","#800080","#800000","#9a9a1e","#4169a8","#66b2c2","#b89858"]},
     "legend": {"orient": "none", "legendX": 263, "legendY": 2.5, "title": null, "labelFont": "Liberation Sans", "labelFontWeight": "bold", "labelFontSize": 15, "labelColor": "#111", "labelExpr": "datum.value == 1000 ? '1 MHz' : datum.value + ' kHz'", "symbolSize": 49, "symbolOffset": 11.5, "labelOffset": 14.5, "rowPadding": 4, "padding": 3, "strokeColor": "#aaa", "fillColor": "white",
      "encode": {"symbols": {"update": {"shape": {"signal": "'M-5.3,0H5.3' + scale('shape', datum.value)"}, "fill": {"scale": "color", "field": "value"}, "stroke": {"scale": "color", "field": "value"}, "strokeWidth": {"value": 1.2}, "size": {"value": 49}, "opacity": {"value": 1}}}}}}
   }},
  {"mark": {"type": "point", "filled": true, "size": 28, "strokeWidth": 1, "opacity": 1},
   "encoding": {
    "x": {"field": "v", "type": "quantitative", "axis": {"orient": "top", "labels": false, "ticks": false, "title": null, "domainColor": "#333", "domainWidth": 1.2}},
    "y": {"field": "r", "type": "quantitative", "axis": {"title": "Rs (kΩ)", "values": [0, 10, 20, 30, 40, 50, 60, 70, 80]}},
    "color": {"field": "f", "type": "nominal"},
    "shape": {"field": "f", "type": "nominal", "scale": {"domain": [10,20,50,100,200,300,400,500,600,700,800,900,1000], "range": ["M-1,-1H1V1H-1Z","M1,0A1,1,0,1,1,-1,0A1,1,0,1,1,1,0Z","M0,-1.1L1,0.7H-1Z","M0,1.1L1,-0.7H-1Z","M0,-1.2L0.9,0L0,1.2L-0.9,0Z","M-1.1,0L0.7,-1V1Z","M1.1,0L-0.7,-1V1Z","M1,0A1,1,0,1,1,-1,0A1,1,0,1,1,1,0Z","M0,-1.1L0.26,-0.36L1.05,-0.34L0.43,0.14L0.65,0.89L0,0.45L-0.65,0.89L-0.43,0.14L-1.05,-0.34L-0.26,-0.36Z","M0,-1L0.95,-0.31L0.59,0.81L-0.59,0.81L-0.95,-0.31Z","M1,0A1,1,0,1,1,-1,0A1,1,0,1,1,1,0Z","M-1.2,0H1.2M0,-1.2V1.2","M-1,-1L1,1M-1,1L1,-1"]}, "legend": null},
    "stroke": {"field": "f", "type": "nominal", "scale": {"domain": [10,20,50,100,200,300,400,500,600,700,800,900,1000], "range": ["#000000","#ff0000","#0000ff","#ff00ff","#008000","#000080","#8000ff","#800080","#800000","#9a9a1e","#4169a8","#66b2c2","#b89858"]}, "legend": null}
   }}
 ]
},
{
 "width": 364, "height": 301,
 "title": {"text": "(b)", "offset": -20},
 "data": {"name": "b"},
 "resolve": {"axis": {"x": "independent"}},
 "layer": [
  {"mark": {"type": "line", "strokeWidth": 1.2},
   "encoding": {
    "x": {"field": "v", "type": "quantitative", "scale": {"domain": [-5.12, 5.05], "nice": false, "zero": false}, "axis": {"title": "Voltage (V)", "values": [-4, -2, 0, 2, 4]}},
    "y": {"field": "r", "type": "quantitative", "scale": {"domain": [-0.05, 40.6], "nice": false, "zero": false}, "axis": {"title": "Rs (kΩ)", "values": [0, 5, 10, 15, 20, 25, 30, 35, 40]}},
    "color": {"field": "f", "type": "nominal",
     "legend": {"orient": "none", "legendX": 263, "legendY": 1.9, "title": null, "labelFont": "Liberation Sans", "labelFontWeight": "bold", "labelFontSize": 15, "labelColor": "#111", "labelExpr": "datum.value == 1000 ? '1 MHz' : datum.value + ' kHz'", "symbolSize": 49, "symbolOffset": 11.5, "labelOffset": 14.5, "rowPadding": 6.2, "padding": 3, "strokeColor": "#aaa", "fillColor": "white",
      "encode": {"symbols": {"update": {"shape": {"signal": "'M-5.3,0H5.3' + scale('shape', datum.value)"}, "fill": {"scale": "color", "field": "value"}, "stroke": {"scale": "color", "field": "value"}, "strokeWidth": {"value": 1.2}, "size": {"value": 49}, "opacity": {"value": 1}}}}}}
   }},
  {"mark": {"type": "point", "filled": true, "size": 36, "strokeWidth": 1, "opacity": 1},
   "encoding": {
    "x": {"field": "v", "type": "quantitative", "axis": {"orient": "top", "labels": false, "ticks": false, "title": null, "domainColor": "#333", "domainWidth": 1.2}},
    "y": {"field": "r", "type": "quantitative", "axis": {"title": "Rs (kΩ)", "values": [0, 5, 10, 15, 20, 25, 30, 35, 40]}},
    "color": {"field": "f", "type": "nominal"},
    "shape": {"field": "f", "type": "nominal", "legend": null},
    "stroke": {"field": "f", "type": "nominal", "legend": null}
   }}
 ]
}
]
}
